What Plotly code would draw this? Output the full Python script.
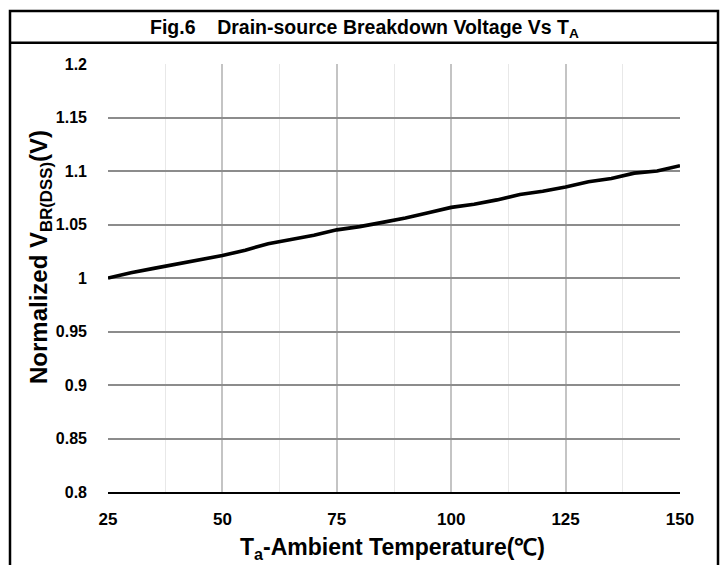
import plotly.graph_objects as go

# ---- data ----
temps = [25, 30, 35, 40, 45, 50, 55, 60, 65, 70, 75, 80, 85, 90, 95,
         100, 105, 110, 115, 120, 125, 130, 135, 140, 145, 150]
vbr_norm = [1.000, 1.005, 1.009, 1.013, 1.017, 1.021, 1.026, 1.032, 1.036, 1.040,
            1.045, 1.048, 1.052, 1.056, 1.061, 1.066, 1.069, 1.073, 1.078, 1.081,
            1.085, 1.090, 1.093, 1.098, 1.100, 1.105]
x_ticks = [25, 50, 75, 100, 125, 150]
y_ticks = [0.8, 0.85, 0.9, 0.95, 1, 1.05, 1.1, 1.15, 1.2]
y_tick_text = ["0.8", "0.85", "0.9", "0.95", "1", "1.05", "1.1", "1.15", "1.2"]

title_text = "Fig.6    Drain-source Breakdown Voltage Vs T<sub>A</sub>"
x_title = "T<sub>a</sub>-Ambient Temperature(\u2103)"
y_title = "Normalized V<sub>BR(DSS)</sub>(V)"

FONT = "Liberation Sans Narrow, Arial Narrow, Liberation Sans, Arial, sans-serif"

fig = go.Figure()
fig.add_trace(go.Scatter(x=temps, y=vbr_norm, mode="lines",
                         line=dict(color="black", width=3.6), showlegend=False,
                         hoverinfo="skip"))

W, H = 726, 565
L, R, T, B = 108, 46, 64, 73
pw, ph = W - L - R, H - T - B

def px(x):
    return (x - L) / pw

def py(y):
    return (H - B - y) / ph

fig.update_layout(
    width=W, height=H,
    margin=dict(l=L, r=R, t=T, b=B),
    paper_bgcolor="white", plot_bgcolor="white",
    font=dict(family=FONT, color="black"),
    xaxis=dict(range=[25, 150], tickvals=x_ticks, showgrid=True,
               gridcolor="#c4c4c4", gridwidth=2,
               minor=dict(dtick=12.5, tick0=25, showgrid=True, gridcolor="#e8e8e8", gridwidth=1),
               showline=True, linecolor="black", linewidth=2,
               zeroline=False, ticks="", ticklabelstandoff=11,
               tickfont=dict(family=FONT, size=17, color="black", weight="bold")),
    yaxis=dict(range=[0.8, 1.2], tickvals=y_ticks, ticktext=y_tick_text, showgrid=True,
               gridcolor="#8c8c8c", gridwidth=1.5, showline=False, zeroline=False,
               ticks="", ticklabelstandoff=20,
               tickfont=dict(family=FONT, size=16, color="black", weight="bold")),
    shapes=[
        dict(type="rect", xref="paper", yref="paper",
             x0=px(10), x1=px(718), y0=py(575), y1=py(11),
             line=dict(color="black", width=2.5), fillcolor="rgba(0,0,0,0)", layer="above"),
        dict(type="line", xref="paper", yref="paper",
             x0=px(10), x1=px(718), y0=py(42.7), y1=py(42.7),
             line=dict(color="black", width=2.5), layer="above"),
    ],
    annotations=[
        dict(text="<b>" + title_text + "</b>", xref="paper", yref="paper",
             x=px(364), y=py(28), xanchor="center", yanchor="middle", showarrow=False,
             font=dict(family=FONT, size=19.5, color="black")),
        dict(text="<b>" + x_title + "</b>", xref="paper", yref="paper",
             x=px(392), y=py(548), xanchor="center", yanchor="middle", showarrow=False,
             font=dict(family=FONT, size=23, color="black")),
        dict(text="<b>" + y_title + "</b>", xref="paper", yref="paper",
             x=px(40), y=py(257), xanchor="center", yanchor="middle", showarrow=False,
             textangle=-90, font=dict(family=FONT, size=24, color="black")),
    ],
)

fig.write_html("out.html")
